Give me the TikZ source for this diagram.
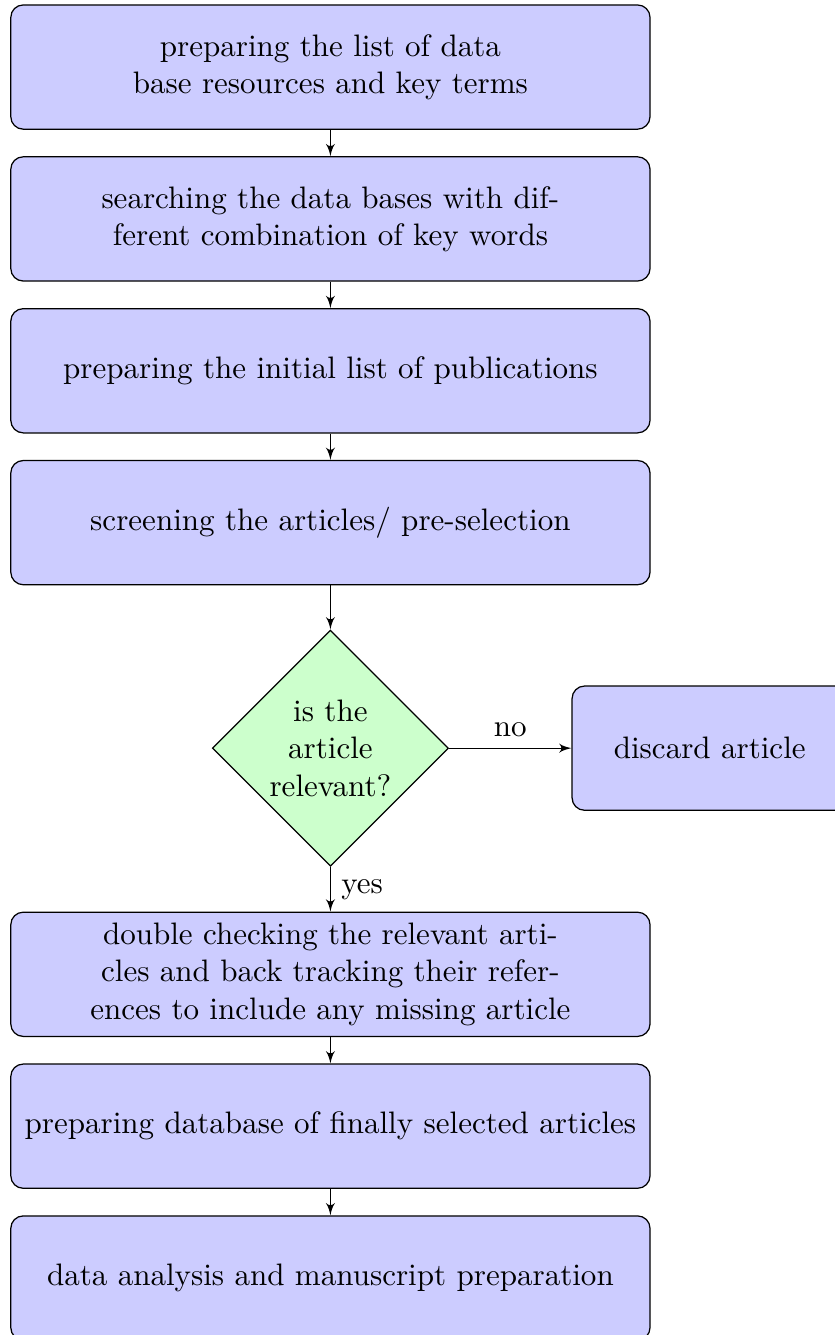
\documentclass[tikz,border=0pt]{standalone}
\usetikzlibrary{shapes.geometric,arrows,positioning}
\begin{document}
\begin{tikzpicture}[
    block/.style={rectangle, draw, fill=blue!20, text width=7cm, align=center,
      rounded corners, minimum height=4em},
    decision/.style={diamond, draw, fill=green!20, text width=4.5em,
      align=flush center, inner sep=0pt},
    line/.style={draw, -latex'}]
  \useasboundingbox (-106.4pt,21.6pt) rectangle (162.4pt,-408.3pt);
  \node[block] (prep) {preparing the list of data base resources and key terms};
  \node[block, below=8.5pt of prep] (search) {searching the data bases with different combination of key words};
  \node[block, below=8.5pt of search] (initial) {preparing the initial list of publications};
  \node[block, below=8.5pt of initial] (screen) {screening the articles/ pre-selection};
  \node[decision, below=14.2pt of screen] (decide) {is the article relevant?};
  \node[block, text width=8.2em, right=39.4pt of decide] (discard) {discard article};
  \node[block, below=14.4pt of decide] (check) {double checking the relevant articles and back tracking their references to include any missing article};
  \node[block, below=8.5pt of check] (database) {preparing database of finally selected articles};
  \node[block, below=8.5pt of database] (analysis) {data analysis and manuscript preparation};
  % edges
  \path[line] (prep) -- (search);
  \path[line] (search) -- (initial);
  \path[line] (initial) -- (screen);
  \path[line] (screen) -- (decide);
  \path[line] (decide) -- node[above] {no} (discard);
  \path[line] (decide) -- node[right] {yes} (check);
  \path[line] (check) -- (database);
  \path[line] (database) -- (analysis);
\end{tikzpicture}
\end{document}
